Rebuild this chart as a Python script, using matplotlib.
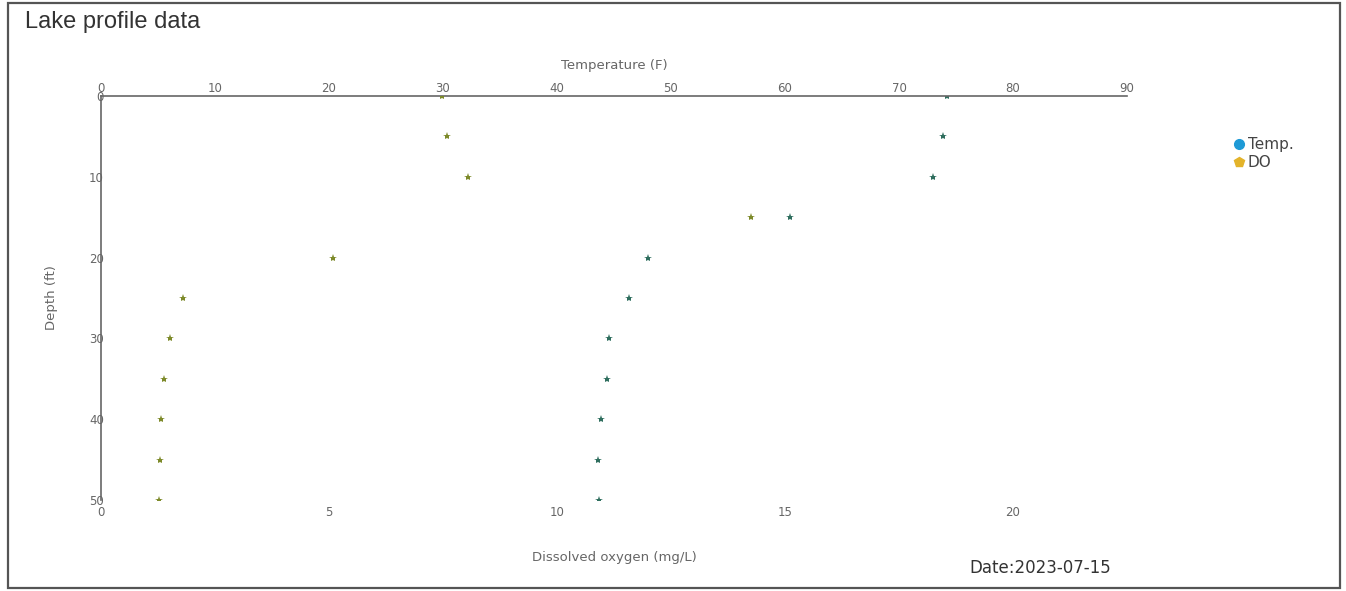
import matplotlib
matplotlib.use("Agg")
import matplotlib.pyplot as plt
from matplotlib.patches import Rectangle
from matplotlib.lines import Line2D

# data
depth = [0, 5, 10, 15, 20, 25, 30, 35, 40, 45, 50]
temp_f = [74.2, 73.9, 73.0, 60.4, 48.0, 46.3, 44.6, 44.4, 43.9, 43.6, 43.7]
do_mgl = [7.47, 7.58, 8.04, 14.26, 5.08, 1.80, 1.52, 1.38, 1.32, 1.30, 1.27]

temp_ticks = [0, 10, 20, 30, 40, 50, 60, 70, 80, 90]
do_ticks = [0, 5, 10, 15, 20]
depth_ticks = [0, 10, 20, 30, 40, 50]

W, H = 1346, 591
fig = plt.figure(figsize=(W / 100, H / 100), dpi=100)
fig.patch.set_facecolor("white")

# outer frame
fig.patches.append(Rectangle((8 / W, 3 / H), 1332 / W, 585 / H, transform=fig.transFigure,
                             fill=False, edgecolor="#555555", linewidth=1.6))

fig.text(25 / W, 1 - 22 / H, "Lake profile data", fontsize=17, color="#333333",
         family="Liberation Sans", va="center", ha="left")

left, right, top, bottom = 101, 1127, 96, 500
ax = fig.add_axes([left / W, 1 - bottom / H, (right - left) / W, (bottom - top) / H])
ax.set_facecolor("none")
ax2 = ax.twiny()

# temperature on top axis
ax.set_xlim(0, 90)
ax.set_ylim(50, 0)
ax.xaxis.tick_top()
ax.xaxis.set_label_position("top")
ax.set_xticks(temp_ticks)
ax.set_yticks(depth_ticks)
ax.tick_params(axis="x", length=0, pad=1, labelsize=8.5, labelcolor="#666666")
ax.tick_params(axis="y", length=0, pad=-2, labelsize=8.5, labelcolor="#666666")
for s in ["right", "bottom"]:
    ax.spines[s].set_visible(False)
for s in ["left", "top"]:
    ax.spines[s].set_color("#666666")
    ax.spines[s].set_linewidth(1.2)
ax.set_xlabel("Temperature (F)", fontsize=9.5, color="#666666", labelpad=9)
ax.set_ylabel("Depth (ft)", fontsize=9.5, color="#666666", labelpad=22)

ax.plot(temp_f, depth, linestyle="none", marker="*", markersize=6,
        color="#2f6e5e", markeredgewidth=0)

# dissolved oxygen on bottom axis
ax2.set_xlim(0, 22.5)
ax2.xaxis.tick_bottom()
ax2.xaxis.set_label_position("bottom")
ax2.set_xticks(do_ticks)
ax2.tick_params(axis="x", length=0, pad=4, labelsize=8.5, labelcolor="#666666")
for s in ax2.spines.values():
    s.set_visible(False)
ax2.set_xlabel("Dissolved oxygen (mg/L)", fontsize=9.5, color="#666666", labelpad=23)

ax2.plot(do_mgl, depth, linestyle="none", marker="*", markersize=6,
         color="#7d8a2a", markeredgewidth=0)

fig.text(1040 / W, 1 - 568 / H, "Date:2023-07-15", fontsize=12, color="#333333",
         ha="center", va="center")

handles = [Line2D([], [], linestyle="none", marker="o", markersize=7, color="#1e9ad6"),
           Line2D([], [], linestyle="none", marker="p", markersize=7, color="#e3b32a")]
fig.legend(handles, ["Temp.", "DO"], loc="upper left", bbox_to_anchor=(1225 / W, 1 - 131 / H),
           frameon=False, fontsize=11, handletextpad=0.1, labelspacing=0.2,
           handlelength=1.0, borderaxespad=0, labelcolor="#444444")

fig.savefig("out.png", dpi=100)
